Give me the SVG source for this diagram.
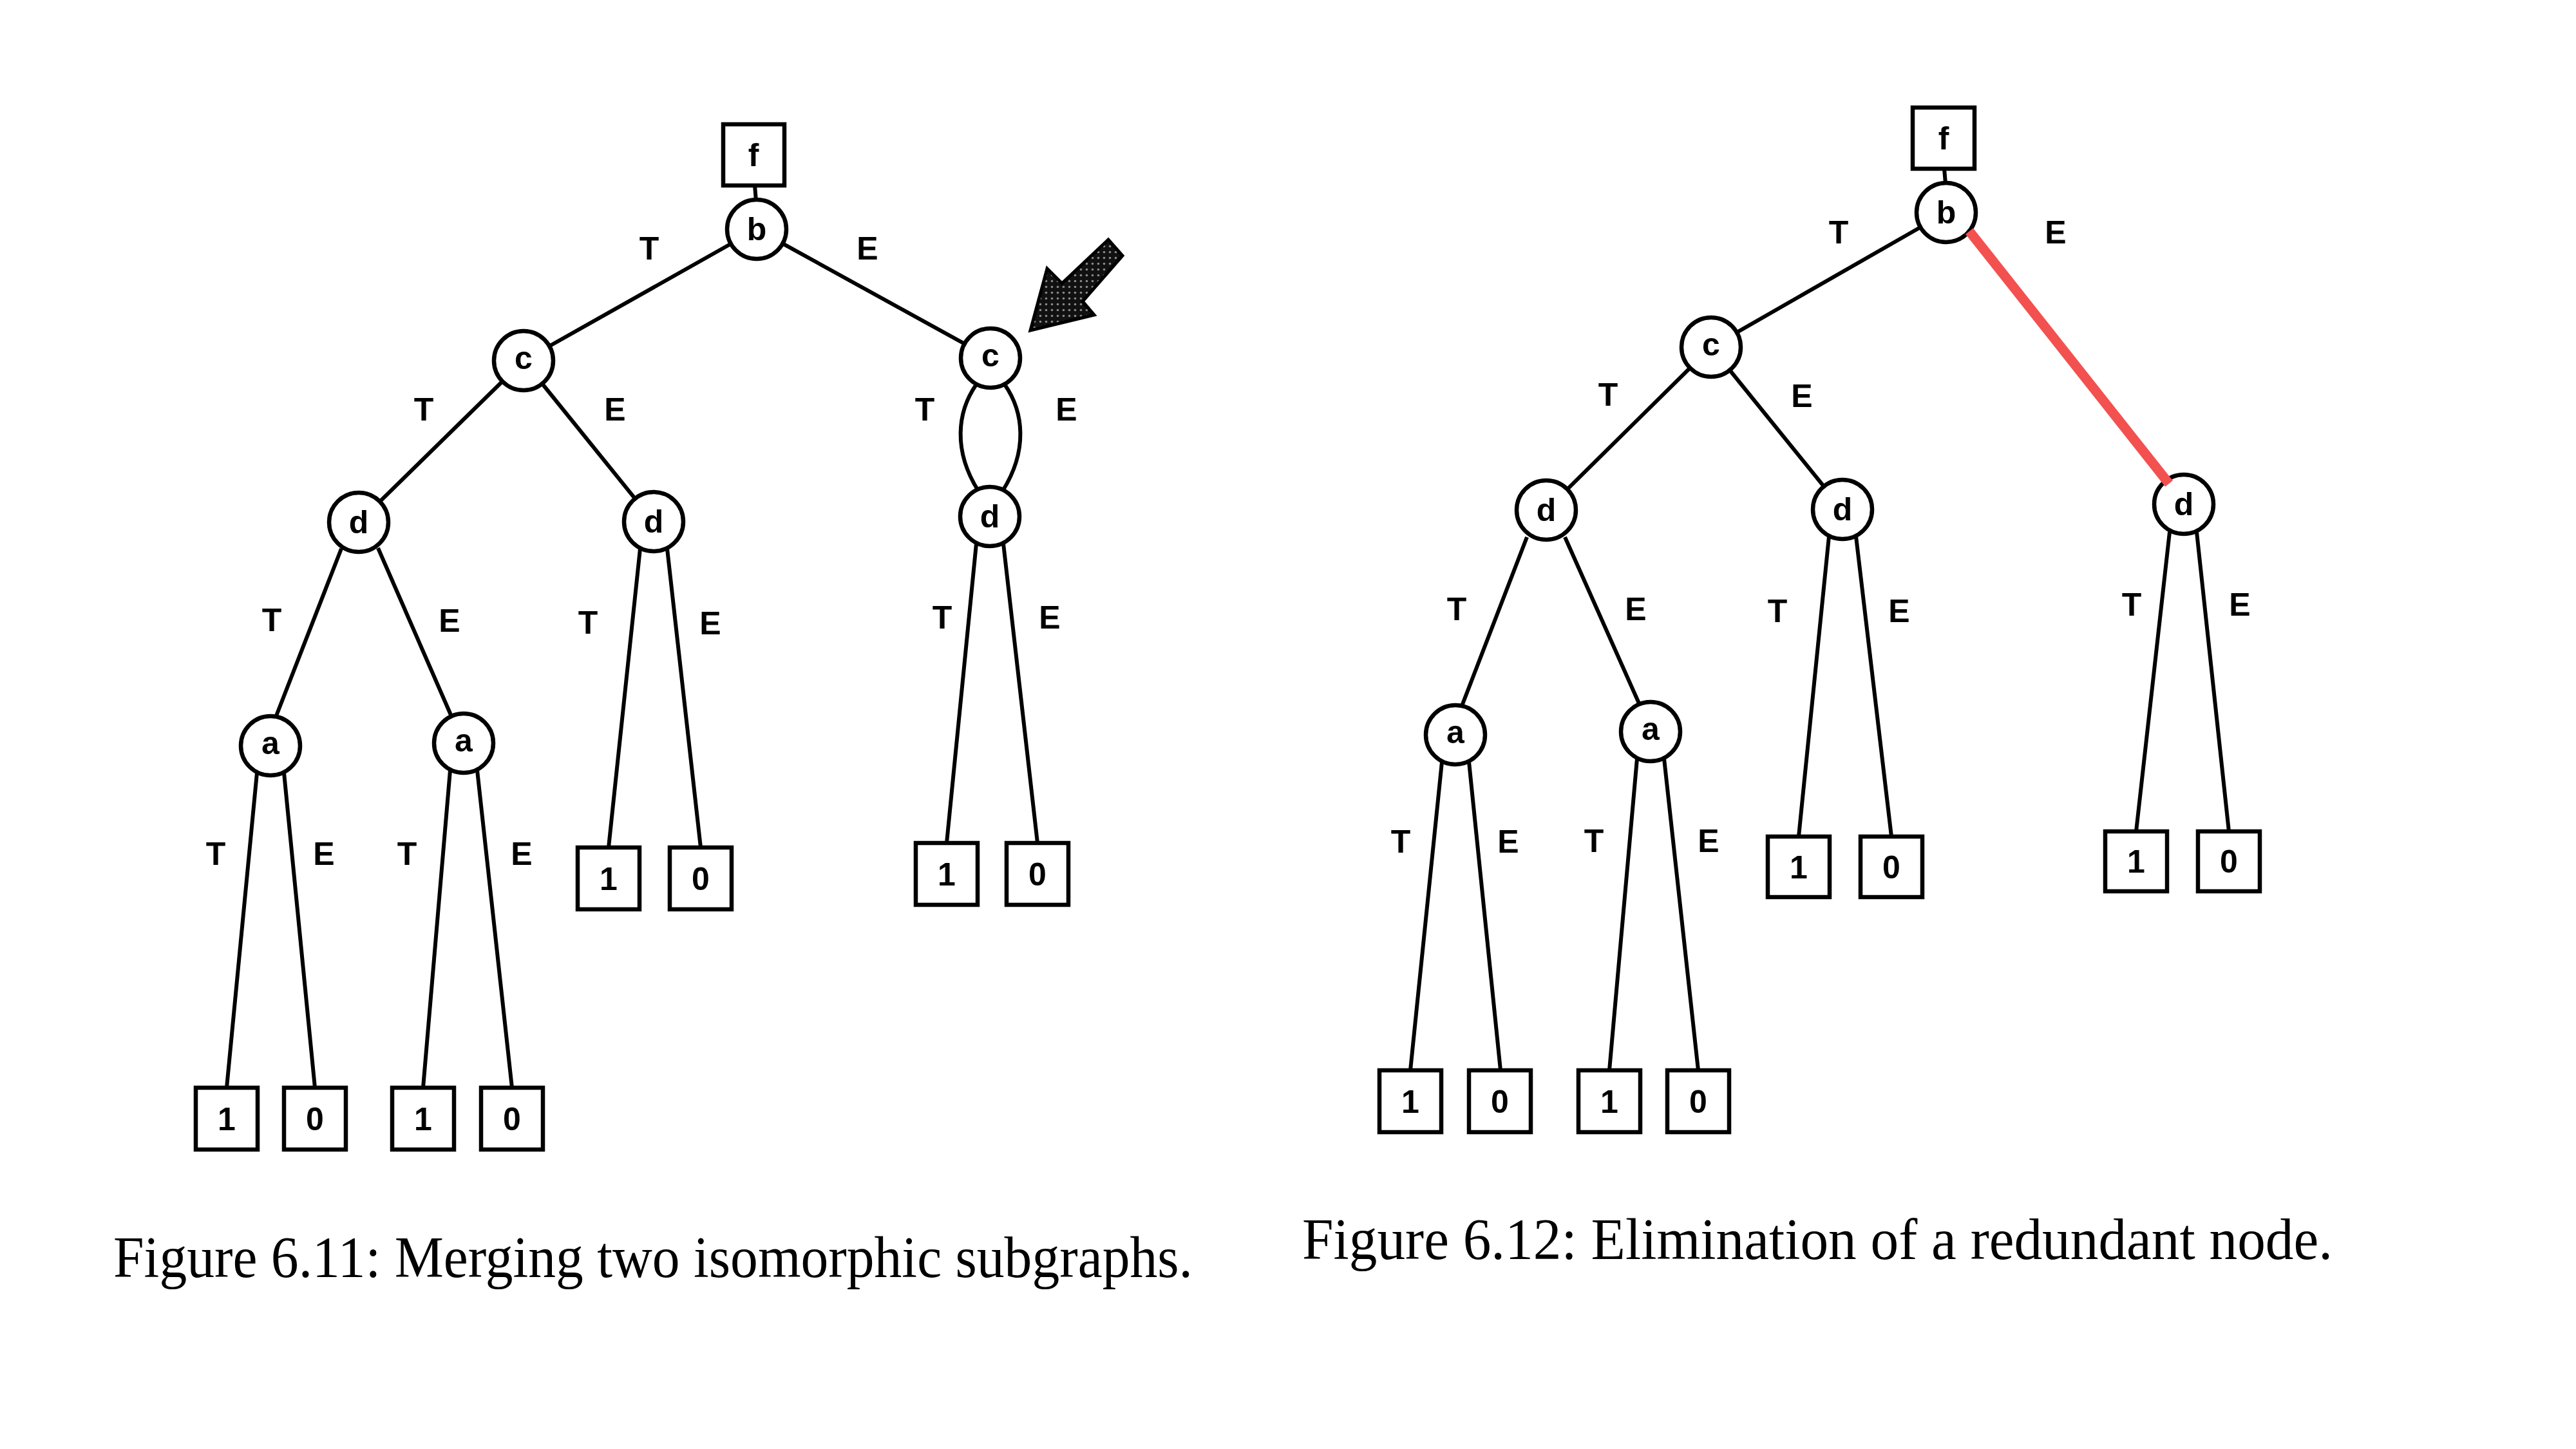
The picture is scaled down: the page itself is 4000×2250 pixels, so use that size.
<svg xmlns="http://www.w3.org/2000/svg" width="4000" height="2250" viewBox="0 0 4000 2250">
<style>
.node circle, .node rect { fill: #ffffff; stroke: #000000; stroke-width: 6.5; }
.node text, .lbl { font-family: "Liberation Sans", Arial, sans-serif; font-weight: bold; font-size: 50px; text-anchor: middle; fill: #000000; }
.edge { stroke: #000000; stroke-width: 6; fill: none; }
.red { stroke: #f35050; stroke-width: 15; fill: none; }
.cap { font-family: "Liberation Serif", "Times New Roman", serif; font-size: 90px; fill: #000000; }
</style>
<defs>
<pattern id="dots" width="9" height="9" patternUnits="userSpaceOnUse">
<rect width="9" height="9" fill="#111111"/>
<circle cx="4.5" cy="4.5" r="1.8" fill="#8a8a8a"/>
</pattern>
</defs>
<rect width="4000" height="2250" fill="#ffffff"/>

<!-- Figure 6.11 connectors -->
<g id="connectors-left">
<path class="edge" d="M1172 288 L1174 312"/>
<path class="edge" d="M1175 356 L813 560"/>
<path class="edge" d="M1175 356 L1538 556"/>
<path class="edge" d="M813 560 L557 811"/>
<path class="edge" d="M813 560 L1015 810"/>
<path class="edge" d="M530 852 L428 1114"/>
<path class="edge" d="M587 851 L700 1110"/>
<path class="edge" d="M399 1200 L352 1689"/>
<path class="edge" d="M441 1200 L489 1689"/>
<path class="edge" d="M699 1196 L657 1689"/>
<path class="edge" d="M741 1196 L795 1689"/>
<path class="edge" d="M994 852 L945 1316"/>
<path class="edge" d="M1036 852 L1088 1316"/>
<path class="edge" d="M1516 597 C1486 640 1480 700 1519 762"/>
<path class="edge" d="M1560 597 C1590 640 1596 700 1557 762"/>
<path class="edge" d="M1516 844 L1470 1309"/>
<path class="edge" d="M1558 844 L1611 1309"/>
</g>

<!-- Figure 6.12 connectors -->
<g id="connectors-right">
<path class="edge" d="M3019 262 L3021 285"/>
<path class="edge" d="M3022 330 L2657 539"/>
<path class="edge" d="M2657 539 L2401 792"/>
<path class="edge" d="M2657 539 L2861 791"/>
<path class="edge" d="M2371 834 L2270 1096"/>
<path class="edge" d="M2430 834 L2545 1092"/>
<path class="edge" d="M2239 1183 L2190 1662"/>
<path class="edge" d="M2281 1183 L2330 1662"/>
<path class="edge" d="M2542 1178 L2499 1662"/>
<path class="edge" d="M2584 1178 L2637 1662"/>
<path class="edge" d="M2840 833 L2793 1299"/>
<path class="edge" d="M2882 833 L2937 1299"/>
<path class="edge" d="M3369 826 L3317 1291"/>
<path class="edge" d="M3411 826 L3461 1291"/>
</g>

<!-- Figure 6.11 nodes -->
<g id="L-f" class="node"><rect x="1123" y="193" width="95" height="95"/><text x="1170" y="258">f</text></g>
<g id="L-b" class="node"><circle cx="1175" cy="356" r="46"/><text x="1175" y="373">b</text></g>
<g id="L-c1" class="node"><circle cx="813" cy="560" r="46"/><text x="813" y="573">c</text></g>
<g id="L-c2" class="node"><circle cx="1538" cy="556" r="46"/><text x="1538" y="569">c</text></g>
<g id="L-d1" class="node"><circle cx="557" cy="811" r="46"/><text x="557" y="828">d</text></g>
<g id="L-d2" class="node"><circle cx="1015" cy="810" r="46"/><text x="1015" y="827">d</text></g>
<g id="L-d3" class="node"><circle cx="1537" cy="802" r="46"/><text x="1537" y="819">d</text></g>
<g id="L-a1" class="node"><circle cx="420" cy="1158" r="46"/><text x="420" y="1171">a</text></g>
<g id="L-a2" class="node"><circle cx="720" cy="1154" r="46"/><text x="720" y="1167">a</text></g>
<g id="L-d2-1" class="node"><rect x="897" y="1316" width="96" height="96"/><text x="945" y="1382">1</text></g>
<g id="L-d2-0" class="node"><rect x="1040" y="1316" width="96" height="96"/><text x="1088" y="1382">0</text></g>
<g id="L-d3-1" class="node"><rect x="1422" y="1309" width="96" height="96"/><text x="1470" y="1375">1</text></g>
<g id="L-d3-0" class="node"><rect x="1563" y="1309" width="96" height="96"/><text x="1611" y="1375">0</text></g>
<g id="L-a1-1" class="node"><rect x="304" y="1689" width="96" height="96"/><text x="352" y="1755">1</text></g>
<g id="L-a1-0" class="node"><rect x="441" y="1689" width="96" height="96"/><text x="489" y="1755">0</text></g>
<g id="L-a2-1" class="node"><rect x="609" y="1689" width="96" height="96"/><text x="657" y="1755">1</text></g>
<g id="L-a2-0" class="node"><rect x="747" y="1689" width="96" height="96"/><text x="795" y="1755">0</text></g>

<!-- Figure 6.12 nodes -->
<g id="R-f" class="node"><rect x="2970" y="167" width="96" height="95"/><text x="3018" y="232">f</text></g>
<g id="R-b" class="node"><circle cx="3022" cy="330" r="46"/><text x="3022" y="347">b</text></g>
<g id="R-c" class="node"><circle cx="2657" cy="539" r="46"/><text x="2657" y="552">c</text></g>
<g id="R-d1" class="node"><circle cx="2401" cy="792" r="46"/><text x="2401" y="809">d</text></g>
<g id="R-d2" class="node"><circle cx="2861" cy="791" r="46"/><text x="2861" y="808">d</text></g>
<g id="R-d3" class="node"><circle cx="3391" cy="783" r="46"/><text x="3391" y="800">d</text></g>
<g id="R-a1" class="node"><circle cx="2260" cy="1141" r="46"/><text x="2260" y="1154">a</text></g>
<g id="R-a2" class="node"><circle cx="2563" cy="1136" r="46"/><text x="2563" y="1149">a</text></g>
<g id="R-d2-1" class="node"><rect x="2745" y="1299" width="96" height="94"/><text x="2793" y="1364">1</text></g>
<g id="R-d2-0" class="node"><rect x="2889" y="1299" width="96" height="94"/><text x="2937" y="1364">0</text></g>
<g id="R-d3-1" class="node"><rect x="3269" y="1291" width="96" height="93"/><text x="3317" y="1355">1</text></g>
<g id="R-d3-0" class="node"><rect x="3413" y="1291" width="96" height="93"/><text x="3461" y="1355">0</text></g>
<g id="R-a1-1" class="node"><rect x="2142" y="1662" width="96" height="96"/><text x="2190" y="1728">1</text></g>
<g id="R-a1-0" class="node"><rect x="2281" y="1662" width="96" height="96"/><text x="2329" y="1728">0</text></g>
<g id="R-a2-1" class="node"><rect x="2451" y="1662" width="96" height="96"/><text x="2499" y="1728">1</text></g>
<g id="R-a2-0" class="node"><rect x="2589" y="1662" width="96" height="96"/><text x="2637" y="1728">0</text></g>

<!-- highlighted connector (drawn over node outlines) -->
<g id="connectors-highlight">
<path class="red" d="M3058 359 L3368 751"/>
</g>

<!-- edge labels -->
<g id="edge-labels">
<text class="lbl" x="1008" y="403">T</text><text class="lbl" x="1347" y="403">E</text>
<text class="lbl" x="658" y="653">T</text><text class="lbl" x="955" y="653">E</text>
<text class="lbl" x="1436" y="653">T</text><text class="lbl" x="1656" y="653">E</text>
<text class="lbl" x="422" y="980">T</text><text class="lbl" x="698" y="981">E</text>
<text class="lbl" x="913" y="984">T</text><text class="lbl" x="1103" y="985">E</text>
<text class="lbl" x="1463" y="976">T</text><text class="lbl" x="1630" y="976">E</text>
<text class="lbl" x="335" y="1343">T</text><text class="lbl" x="503" y="1343">E</text>
<text class="lbl" x="632" y="1343">T</text><text class="lbl" x="810" y="1343">E</text>

<text class="lbl" x="2855" y="378">T</text><text class="lbl" x="3192" y="378">E</text>
<text class="lbl" x="2497" y="630">T</text><text class="lbl" x="2798" y="632">E</text>
<text class="lbl" x="2262" y="963">T</text><text class="lbl" x="2540" y="963">E</text>
<text class="lbl" x="2760" y="966">T</text><text class="lbl" x="2949" y="966">E</text>
<text class="lbl" x="3310" y="956">T</text><text class="lbl" x="3478" y="956">E</text>
<text class="lbl" x="2175" y="1324">T</text><text class="lbl" x="2342" y="1324">E</text>
<text class="lbl" x="2475" y="1323">T</text><text class="lbl" x="2653" y="1323">E</text>
</g>

<!-- pointer arrow -->
<g id="arrow">
<polygon points="1600,513 1626,417 1649,440 1721,372 1743,397 1681,468 1699,489" fill="url(#dots)" stroke="#000000" stroke-width="5" stroke-linejoin="miter"/>
</g>

<!-- captions -->
<text class="cap" x="176" y="1983" textLength="1676" lengthAdjust="spacingAndGlyphs">Figure 6.11: Merging two isomorphic subgraphs.</text>
<text class="cap" x="2022" y="1955" textLength="1600" lengthAdjust="spacingAndGlyphs">Figure 6.12: Elimination of a redundant node.</text>
</svg>
